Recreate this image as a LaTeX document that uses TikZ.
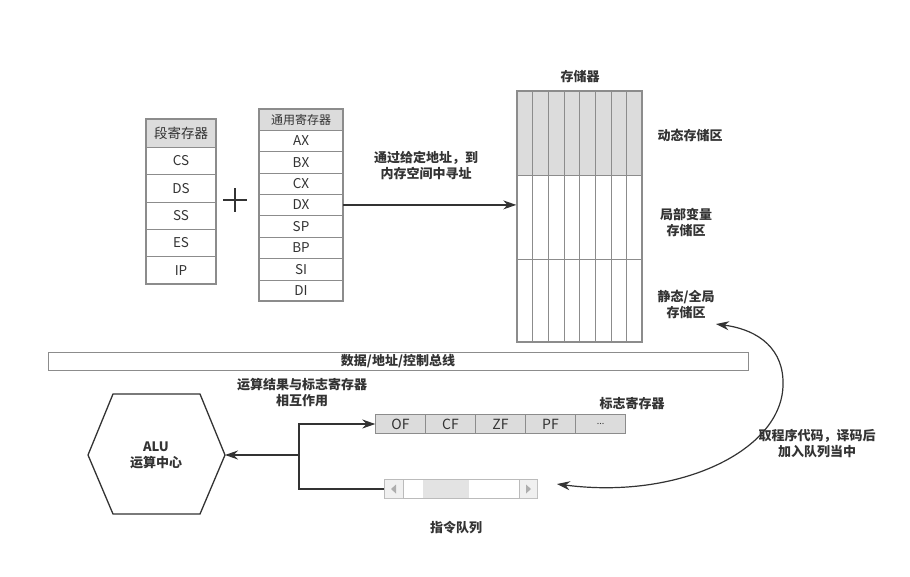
\documentclass[tikz,border=0pt]{standalone}
\usepackage{fontspec}
\setmainfont{Noto Sans CJK SC}
\usetikzlibrary{arrows.meta}
\definecolor{linegray}{HTML}{8C8C8C}
\definecolor{cellgray}{HTML}{DCDCDC}
\definecolor{darkline}{HTML}{333333}
\definecolor{textdark}{HTML}{333333}
\definecolor{barline}{HTML}{BBBBBB}
\definecolor{barfill}{HTML}{F0F0F0}
\tikzset{
  lbl/.style={font=\fontsize{13}{16}\selectfont\bfseries, text=textdark, align=center},
  celltext/.style={font=\fontsize{13.5}{15}\selectfont, text=textdark},
  segcell/.style={draw=linegray, minimum width=70pt, minimum height=27.4pt, inner sep=0pt, celltext},
  gencell/.style={draw=linegray, minimum width=84pt, minimum height=21.4pt, inner sep=0pt, celltext},
  flagcell/.style={draw=linegray, fill=cellgray, minimum width=50pt, minimum height=19pt, inner sep=0pt, font=\fontsize{14}{15}\selectfont, text=textdark},
  arrtip/.tip={Stealth[length=13pt,width=9pt]},
  arr/.style={draw=darkline, line width=1.2pt, -arrtip},
}

\begin{document}
\begin{tikzpicture}
                \tikzset{x={(1pt,0pt)}, y={(0pt,-1pt)}}
                \useasboundingbox (0,0) rectangle (910,576);
                % segment registers
                \node[segcell, fill=cellgray, minimum height=28pt] (seg) at (181,133) {段寄存器};
                \node[segcell] (cs) at (181,160.7) {CS};
                \node[segcell] (ds) at (181,188.1) {DS};
                \node[segcell] (ss) at (181,215.5) {SS};
                \node[segcell] (es) at (181,242.9) {ES};
                \node[segcell] (ip) at (181,270.3) {IP};
                \draw[linegray, line width=1.5pt] (146,119) rectangle (216,284);
                % plus
                \draw[darkline, line width=1.3pt] (223,200) -- (247,200) (235,188) -- (235,212);
                % general registers
                \node[gencell, fill=cellgray, minimum height=21pt, font=\fontsize{12}{14}\selectfont] (gen) at (301,119.5) {通用寄存器};
                \node[gencell] (ax) at (301,140.7) {AX};
                \node[gencell] (bx) at (301,162.1) {BX};
                \node[gencell] (cx) at (301,183.5) {CX};
                \node[gencell] (dx) at (301,204.9) {DX};
                \node[gencell] (sp) at (301,226.3) {SP};
                \node[gencell] (bp) at (301,247.7) {BP};
                \node[gencell] (si) at (301,269.1) {SI};
                \node[gencell] (di) at (301,290.5) {DI};
                \draw[linegray, line width=1.5pt] (259,109) rectangle (343,301);
                % memory
                \fill[cellgray] (517,91) rectangle (642,175);
                \foreach \i in {1,...,7}
                    \draw[linegray] (517+\i*15.625,91) -- (517+\i*15.625,342);
                \draw[linegray] (517,175) -- (642,175) (517,259) -- (642,259);
                \node[draw=linegray, line width=1.5pt, minimum width=125pt, minimum height=251pt, inner sep=0pt] (mem) at (579.5,216.5) {};
                \node[lbl] (memtitle) at (580,77) {存储器};
                \node[lbl] (dyn) at (690,135) {动态存储区};
                \node[lbl] (loc) at (686,222) {局部变量\\存储区};
                \node[lbl] (stat) at (686,304) {静态/全局\\存储区};
                \draw[arr] (dx.east) -- (dx.east -| mem.west);
                \node[lbl] (addr) at (426,165) {通过给定地址，到\\内存空间中寻址};
                % bus
                \node[draw=linegray, minimum width=700pt, minimum height=18pt, inner sep=0pt, lbl] (bus) at (398,361) {数据/地址/控制总线};
                % ALU
                \draw[darkline, line width=1.3pt] (88,455) -- (113,394) -- (200,394) -- (225,455) -- (200,514) -- (113,514) -- cycle;
                \node[lbl] (alu) at (156,455) {ALU\\运算中心};
                \coordinate (alu-e) at (225,455);
                % flag register
                \node[flagcell] (of) at (400.5,424) {OF};
                \node[flagcell] (cf) at (450.5,424) {CF};
                \node[flagcell] (zf) at (500.5,424) {ZF};
                \node[flagcell] (pf) at (550.5,424) {PF};
                \node[flagcell, font=\fontsize{9}{10}\selectfont] (etc) at (600.5,424) {\raisebox{-2pt}{...}};
                \draw[linegray, line width=1.5pt] (375.5,414.5) rectangle (625.5,433.5);
                \node[lbl] (flagtitle) at (632,404) {标志寄存器};
                \node[lbl] (inter) at (302,393) {运算结果与标志寄存器\\相互作用};
                % instruction queue
                \node[draw=barline, minimum width=153pt, minimum height=19pt, inner sep=0pt] (queue) at (461,489) {};
                \fill[barfill] (385,480) rectangle (403,498) (519,480) rectangle (537,498);
                \fill[cellgray!80!white] (423,480) rectangle (469,498);
                \draw[barline] (403,479.5) -- (403,498.5) (519,479.5) -- (519,498.5);
                \fill[linegray!70!white] (391,489) -- (396,484.5) -- (396,493.5) -- cycle;
                \fill[linegray!70!white] (531,489) -- (526,484.5) -- (526,493.5) -- cycle;
                \node[lbl] (queuetitle) at (456,528) {指令队列};
                % connectors
                \coordinate (junc) at (299,455);
                \draw[arr] (junc) -- (alu-e);
                \draw[arr] (junc) |- (of.west);
                \draw[darkline, line width=1.2pt] (junc) |- (queue.west);
                \coordinate (stat-in) at (716,324);
                \coordinate (queue-in) at (557,484);
                \draw[darkline, line width=1.2pt, arrtip-arrtip]
                    (stat-in) .. controls (760,330) and (784,350) .. (783,385)
                    .. controls (782,450) and (680,500) .. (queue-in);
                \node[lbl] (fetch) at (817,444) {取程序代码，译码后\\加入队列当中};
            \end{tikzpicture}
\end{document}
